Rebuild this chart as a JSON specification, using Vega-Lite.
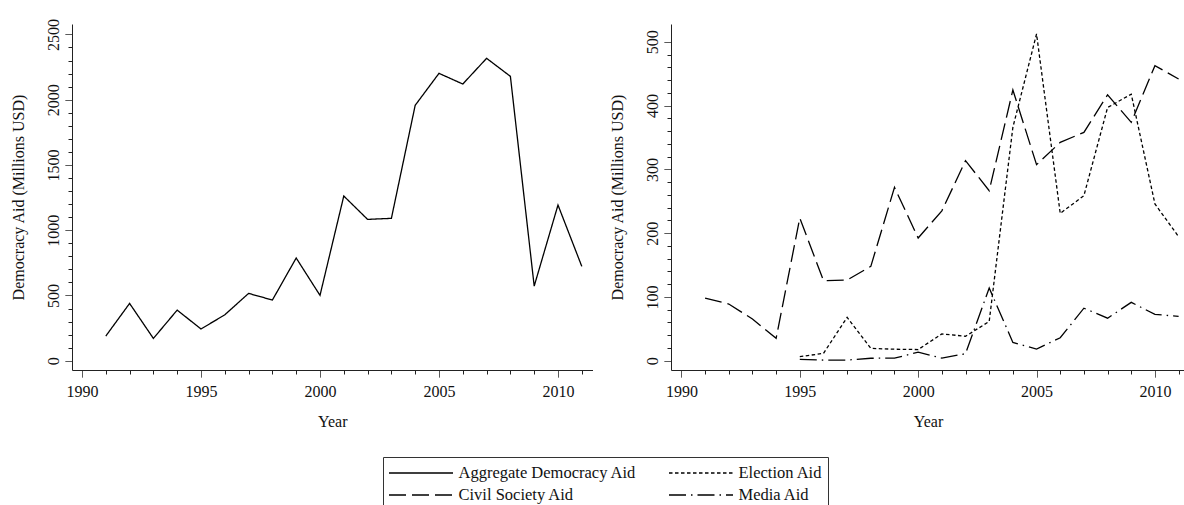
{
  "$schema": "https://vega.github.io/schema/vega-lite/v6.json",
  "background": "white",
  "padding": {"left": 10, "top": 18, "right": 0, "bottom": 0},
  "spacing": 78,
  "bounds": "flush",
  "datasets": {
    "aid": [
      {"year": 1991, "series": "Aggregate Democracy Aid", "value": 189},
      {"year": 1992, "series": "Aggregate Democracy Aid", "value": 439},
      {"year": 1993, "series": "Aggregate Democracy Aid", "value": 171},
      {"year": 1994, "series": "Aggregate Democracy Aid", "value": 388},
      {"year": 1995, "series": "Aggregate Democracy Aid", "value": 243},
      {"year": 1996, "series": "Aggregate Democracy Aid", "value": 352},
      {"year": 1997, "series": "Aggregate Democracy Aid", "value": 516},
      {"year": 1998, "series": "Aggregate Democracy Aid", "value": 465},
      {"year": 1999, "series": "Aggregate Democracy Aid", "value": 787},
      {"year": 2000, "series": "Aggregate Democracy Aid", "value": 501},
      {"year": 2001, "series": "Aggregate Democracy Aid", "value": 1262},
      {"year": 2002, "series": "Aggregate Democracy Aid", "value": 1083},
      {"year": 2003, "series": "Aggregate Democracy Aid", "value": 1091},
      {"year": 2004, "series": "Aggregate Democracy Aid", "value": 1957},
      {"year": 2005, "series": "Aggregate Democracy Aid", "value": 2202},
      {"year": 2006, "series": "Aggregate Democracy Aid", "value": 2120},
      {"year": 2007, "series": "Aggregate Democracy Aid", "value": 2317},
      {"year": 2008, "series": "Aggregate Democracy Aid", "value": 2179},
      {"year": 2009, "series": "Aggregate Democracy Aid", "value": 572},
      {"year": 2010, "series": "Aggregate Democracy Aid", "value": 1193},
      {"year": 2011, "series": "Aggregate Democracy Aid", "value": 723},
      {"year": 1991, "series": "Civil Society Aid", "value": 98.3},
      {"year": 1992, "series": "Civil Society Aid", "value": 88.9},
      {"year": 1993, "series": "Civil Society Aid", "value": 65.4},
      {"year": 1994, "series": "Civil Society Aid", "value": 35},
      {"year": 1995, "series": "Civil Society Aid", "value": 223.8},
      {"year": 1996, "series": "Civil Society Aid", "value": 125.5},
      {"year": 1997, "series": "Civil Society Aid", "value": 126.5},
      {"year": 1998, "series": "Civil Society Aid", "value": 148},
      {"year": 1999, "series": "Civil Society Aid", "value": 271.8},
      {"year": 2000, "series": "Civil Society Aid", "value": 192.4},
      {"year": 2001, "series": "Civil Society Aid", "value": 235},
      {"year": 2002, "series": "Civil Society Aid", "value": 313.7},
      {"year": 2003, "series": "Civil Society Aid", "value": 266.6},
      {"year": 2004, "series": "Civil Society Aid", "value": 424.6},
      {"year": 2005, "series": "Civil Society Aid", "value": 307.4},
      {"year": 2006, "series": "Civil Society Aid", "value": 342.4},
      {"year": 2007, "series": "Civil Society Aid", "value": 358},
      {"year": 2008, "series": "Civil Society Aid", "value": 417},
      {"year": 2009, "series": "Civil Society Aid", "value": 373.7},
      {"year": 2010, "series": "Civil Society Aid", "value": 462.7},
      {"year": 2011, "series": "Civil Society Aid", "value": 441.8},
      {"year": 1995, "series": "Election Aid", "value": 6.3},
      {"year": 1996, "series": "Election Aid", "value": 11.5},
      {"year": 1997, "series": "Election Aid", "value": 68},
      {"year": 1998, "series": "Election Aid", "value": 19.3},
      {"year": 1999, "series": "Election Aid", "value": 18},
      {"year": 2000, "series": "Election Aid", "value": 17.5},
      {"year": 2001, "series": "Election Aid", "value": 42},
      {"year": 2002, "series": "Election Aid", "value": 38.3},
      {"year": 2003, "series": "Election Aid", "value": 61.5},
      {"year": 2004, "series": "Election Aid", "value": 366},
      {"year": 2005, "series": "Election Aid", "value": 512.4},
      {"year": 2006, "series": "Election Aid", "value": 231},
      {"year": 2007, "series": "Election Aid", "value": 258.8},
      {"year": 2008, "series": "Election Aid", "value": 397},
      {"year": 2009, "series": "Election Aid", "value": 418},
      {"year": 2010, "series": "Election Aid", "value": 245.8},
      {"year": 2011, "series": "Election Aid", "value": 194.5},
      {"year": 1995, "series": "Media Aid", "value": 2},
      {"year": 1996, "series": "Media Aid", "value": 1},
      {"year": 1997, "series": "Media Aid", "value": 1},
      {"year": 1998, "series": "Media Aid", "value": 3.8},
      {"year": 1999, "series": "Media Aid", "value": 4},
      {"year": 2000, "series": "Media Aid", "value": 13.3},
      {"year": 2001, "series": "Media Aid", "value": 4},
      {"year": 2002, "series": "Media Aid", "value": 11},
      {"year": 2003, "series": "Media Aid", "value": 114},
      {"year": 2004, "series": "Media Aid", "value": 28.7},
      {"year": 2005, "series": "Media Aid", "value": 18.3},
      {"year": 2006, "series": "Media Aid", "value": 36},
      {"year": 2007, "series": "Media Aid", "value": 82.3},
      {"year": 2008, "series": "Media Aid", "value": 66.6},
      {"year": 2009, "series": "Media Aid", "value": 91.5},
      {"year": 2010, "series": "Media Aid", "value": 72.6},
      {"year": 2011, "series": "Media Aid", "value": 69.5}
    ]
  },
  "hconcat": [
    {
      "width": 520.5,
      "height": 346,
      "data": {"name": "aid"},
      "transform": [{"filter": "datum.series === 'Aggregate Democracy Aid'"}],
      "mark": {"type": "line", "color": "black", "strokeWidth": 1.3},
      "encoding": {
        "x": {"field": "year", "type": "quantitative",
          "scale": {"domain": [1989.58, 2011.45], "nice": false, "zero": false},
          "axis": {"orient": "bottom", "title": "Year",
            "values": [1990, 1991, 1992, 1993, 1994, 1995, 1996, 1997, 1998, 1999, 2000, 2001, 2002, 2003, 2004, 2005, 2006, 2007, 2008, 2009, 2010, 2011],
            "format": "d", "labelExpr": "datum.value % 5 === 0 ? datum.label : ''",
            "tickSize": 7, "tickDash": {"condition": {"test": "datum.value % 5 !== 0", "value": [4, 20]}, "value": [1, 0]},
            "labelPadding": 6.5, "titlePadding": 14, "labelFlush": false, "labelOverlap": false}},
        "y": {"field": "value", "type": "quantitative",
          "scale": {"domain": [-71, 2580], "nice": false, "zero": false},
          "axis": {"orient": "left", "title": "Democracy Aid (Millions USD)",
            "values": [0, 100, 200, 300, 400, 500, 600, 700, 800, 900, 1000, 1100, 1200, 1300, 1400, 1500, 1600, 1700, 1800, 1900, 2000, 2100, 2200, 2300, 2400, 2500],
            "format": "d", "labelExpr": "datum.value % 500 === 0 ? datum.label : ''",
            "tickSize": 7, "tickDash": {"condition": {"test": "datum.value % 500 !== 0", "value": [4, 20]}, "value": [1, 0]},
            "labelAngle": -90, "labelAlign": "center", "labelBaseline": "alphabetic", "labelPadding": 7, "minExtent": 30, "maxExtent": 30, "titlePadding": 16, "labelFlush": false, "labelOverlap": false}},
        "strokeDash": {"field": "series", "type": "nominal",
          "scale": {"domain": ["Aggregate Democracy Aid", "Civil Society Aid", "Election Aid", "Media Aid"], "range": [[1, 0], [17, 6], [3.5, 2.5], [17, 5, 1.5, 5]]},
          "legend": {"orient": "none", "legendX": 311, "legendY": 433, "columns": 2, "title": null}}
      }
    },
    {
      "width": 514,
      "height": 346,
      "data": {"name": "aid"},
      "transform": [{"filter": "datum.series !== 'Aggregate Democracy Aid'"}],
      "mark": {"type": "line", "color": "black", "strokeWidth": 1.3},
      "encoding": {
        "x": {"field": "year", "type": "quantitative",
          "scale": {"domain": [1989.56, 2011.27], "nice": false, "zero": false},
          "axis": {"orient": "bottom", "title": "Year",
            "values": [1990, 1991, 1992, 1993, 1994, 1995, 1996, 1997, 1998, 1999, 2000, 2001, 2002, 2003, 2004, 2005, 2006, 2007, 2008, 2009, 2010, 2011],
            "format": "d", "labelExpr": "datum.value % 5 === 0 ? datum.label : ''",
            "tickSize": 7, "tickDash": {"condition": {"test": "datum.value % 5 !== 0", "value": [4, 20]}, "value": [1, 0]},
            "labelPadding": 6.5, "titlePadding": 14, "labelFlush": false, "labelOverlap": false}},
        "y": {"field": "value", "type": "quantitative",
          "scale": {"domain": [-14.6, 528], "nice": false, "zero": false},
          "axis": {"orient": "left", "title": "Democracy Aid (Millions USD)",
            "values": [0, 20, 40, 60, 80, 100, 120, 140, 160, 180, 200, 220, 240, 260, 280, 300, 320, 340, 360, 380, 400, 420, 440, 460, 480, 500],
            "format": "d", "labelExpr": "datum.value % 100 === 0 ? datum.label : ''",
            "tickSize": 7, "tickDash": {"condition": {"test": "datum.value % 100 !== 0", "value": [4, 20]}, "value": [1, 0]},
            "labelAngle": -90, "labelAlign": "center", "labelBaseline": "alphabetic", "labelPadding": 7, "minExtent": 30, "maxExtent": 30, "titlePadding": 16, "labelFlush": false, "labelOverlap": false}},
        "strokeDash": {"field": "series", "type": "nominal",
          "scale": {"domain": ["Aggregate Democracy Aid", "Civil Society Aid", "Election Aid", "Media Aid"], "range": [[1, 0], [17, 6], [3.5, 2.5], [17, 5, 1.5, 5]]},
          "legend": {"orient": "none", "legendX": 311, "legendY": 433, "columns": 2, "title": null}}
      }
    }
  ],
  "config": {
    "font": "Liberation Serif",
    "view": {"stroke": null},
    "axis": {
      "grid": false,
      "labelFont": "Liberation Serif",
      "titleFont": "Liberation Serif",
      "labelFontSize": 16,
      "titleFontSize": 16,
      "titleFontWeight": "normal",
      "labelColor": "#111",
      "titleColor": "#111",
      "domainColor": "#222",
      "tickColor": "#222",
      "domainWidth": 1,
      "tickWidth": 1
    },
    "legend": {
      "symbolType": "stroke",
      "symbolSize": 4096,
      "symbolStrokeWidth": 1.3,
      "symbolStrokeColor": "black",
      "clipHeight": 22,
      "labelOffset": 4.5,
      "columnPadding": 31,
      "rowPadding": 0,
      "padding": 5,
      "strokeColor": "#333",
      "labelFont": "Liberation Serif",
      "labelFontSize": 16.5,
      "labelColor": "#111",
      "labelLimit": 400
    }
  }
}
